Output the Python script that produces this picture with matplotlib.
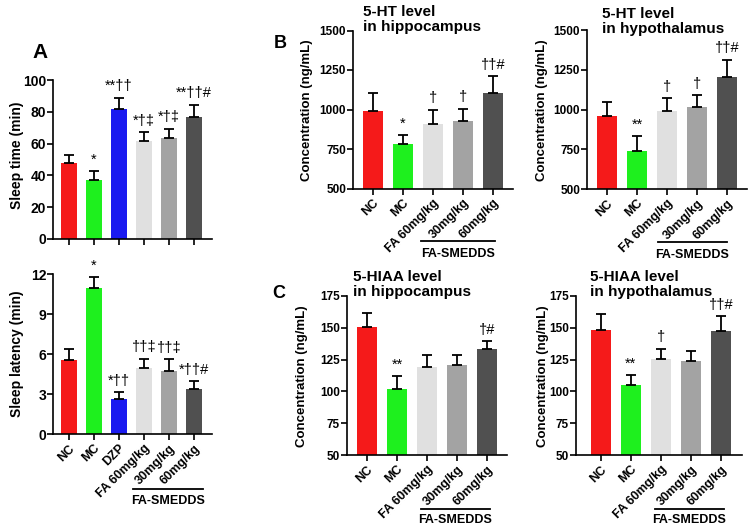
import matplotlib
matplotlib.use("Agg")
import matplotlib.pyplot as plt
import matplotlib.transforms as mtransforms

plt.rcParams["font.family"] = ["Liberation Sans", "DejaVu Sans"]
plt.rcParams["font.weight"] = "bold"

W, H = 752, 529

groups_a = ["NC", "MC", "DZP", "FA 60mg/kg", "30mg/kg", "60mg/kg"]
groups_bc = ["NC", "MC", "FA 60mg/kg", "30mg/kg", "60mg/kg"]

colors_a = ["#f51a1a", "#1ef01e", "#1a1af0", "#e0e0e0", "#a3a3a3", "#505050"]
colors_bc = ["#f51a1a", "#1ef01e", "#e0e0e0", "#a3a3a3", "#505050"]

sleep_time = [47.5, 37.2, 81.8, 61.4, 63.4, 76.9]
sleep_time_sd = [5.5, 5.3, 7.1, 5.9, 6.0, 7.6]
sleep_time_sig = ["", "*", "**††", "*†‡", "*†‡", "**††#"]

sleep_latency = [5.55, 10.97, 2.6, 4.98, 4.73, 3.35]
sleep_latency_sd = [0.8, 0.83, 0.53, 0.67, 0.87, 0.63]
sleep_latency_sig = ["", "*", "*††", "††‡", "††‡", "*††#"]

ht_hippo = [991, 783, 908, 925, 1106]
ht_hippo_sd = [115, 58, 92, 81, 106]
ht_hippo_sig = ["", "*", "†", "†", "††#"]

ht_hypo = [962, 741, 989, 1017, 1204]
ht_hypo_sd = [86, 95, 85, 76, 110]
ht_hypo_sig = ["", "**", "†", "†", "††#"]

hiaa_hippo = [150.8, 101.9, 119.1, 120.4, 133.6]
hiaa_hippo_sd = [10.9, 10.4, 9.4, 8.1, 6.2]
hiaa_hippo_sig = ["", "**", "", "", "†#"]

hiaa_hypo = [148.5, 104.9, 125.8, 123.7, 147.4]
hiaa_hypo_sd = [12.2, 7.7, 7.9, 7.8, 11.6]
hiaa_hypo_sig = ["", "**", "†", "", "††#"]


def px_axes(fig, x0, x1, ytop, ybot):
    return fig.add_axes([x0 / W, 1 - ybot / H, (x1 - x0) / W, (ybot - ytop) / H])


def bar_panel(ax, labels, values, sd, sig, colors, ylim, yticks, xlim,
              show_xlabels=True, smedds=None, ytick_size=8.5):
    x = list(range(len(values)))
    ax.bar(x, values, width=0.67, color=colors, zorder=2)
    ax.errorbar(x, values, yerr=[[0] * len(sd), sd], fmt="none", ecolor="black",
                elinewidth=1.3, capsize=3.6, capthick=1.3, zorder=3)
    for xi, v, s, t in zip(x, values, sd, sig):
        if t:
            ax.annotate(t, (xi, v + s), xytext=(0, 3), textcoords="offset points",
                        ha="center", va="bottom", fontsize=10.5,
                        fontweight="normal")
    ax.set_xlim(*xlim)
    ax.set_ylim(*ylim)
    ax.set_yticks(yticks)
    ax.spines["top"].set_visible(False)
    ax.spines["right"].set_visible(False)
    for sp in ("left", "bottom"):
        ax.spines[sp].set_linewidth(1.2)
    ax.tick_params(width=1.2, length=4)
    ax.tick_params(axis="y", pad=1, labelsize=ytick_size)
    ax.tick_params(axis="x", pad=2)
    ax.set_xticks(x)
    if show_xlabels:
        ax.set_xticklabels(labels, rotation=45, ha="right", rotation_mode="anchor",
                           fontsize=9)
    else:
        ax.set_xticklabels([])
    if smedds is not None:
        x0, x1, yl, yt = smedds
        trans = mtransforms.blended_transform_factory(ax.transData, ax.transAxes)
        ax.plot([x0, x1], [yl, yl], color="black", lw=1.3, transform=trans,
                clip_on=False)
        ax.text((x0 + x1) / 2, yt, "FA-SMEDDS", transform=trans, ha="center",
                va="center", fontsize=9)


def main() -> None:
    fig = plt.figure(figsize=(W / 100, H / 100), dpi=100)

    # panel A
    ax = px_axes(fig, 53, 212, 80, 239)
    bar_panel(ax, groups_a, sleep_time, sleep_time_sd, sleep_time_sig, colors_a,
              (0, 100), range(0, 101, 20), (-0.64, 5.72), show_xlabels=False,
              ytick_size=10)
    fig.text(17 / W, 1 - 155 / H, "Sleep time (min)", rotation=90,
             ha="center", va="center", fontsize=10)

    ax = px_axes(fig, 53, 212, 274, 434)
    bar_panel(ax, groups_a, sleep_latency, sleep_latency_sd, sleep_latency_sig,
              colors_a, (0, 12), range(0, 13, 3), (-0.64, 5.72),
              smedds=(2.56, 5.36, -0.344, -0.417), ytick_size=10)
    fig.text(17 / W, 1 - 354 / H, "Sleep latency (min)", rotation=90,
             ha="center", va="center", fontsize=10)

    # panel B
    ax = px_axes(fig, 353, 513, 30.5, 188.5)
    bar_panel(ax, groups_bc, ht_hippo, ht_hippo_sd, ht_hippo_sig, colors_bc,
              (500, 1500), range(500, 1501, 250), (-0.667, 4.67),
              smedds=(1.6, 4.07, -0.333, -0.415))
    fig.text(307 / W, 1 - 110 / H, "Concentration (ng/mL)", rotation=90,
             ha="center", va="center", fontsize=9.5)

    ax = px_axes(fig, 587, 747, 30, 189)
    bar_panel(ax, groups_bc, ht_hypo, ht_hypo_sd, ht_hypo_sig, colors_bc,
              (500, 1500), range(500, 1501, 250), (-0.667, 4.67),
              smedds=(1.7, 4.0, -0.333, -0.415))
    fig.text(542 / W, 1 - 110 / H, "Concentration (ng/mL)", rotation=90,
             ha="center", va="center", fontsize=9.5)

    # panel C
    ax = px_axes(fig, 347, 507, 296, 455)
    bar_panel(ax, groups_bc, hiaa_hippo, hiaa_hippo_sd, hiaa_hippo_sig, colors_bc,
              (50, 175), range(50, 176, 25), (-0.67, 4.67),
              smedds=(1.8, 4.1, -0.34, -0.41))
    fig.text(302 / W, 1 - 376 / H, "Concentration (ng/mL)", rotation=90,
             ha="center", va="center", fontsize=9.5)

    ax = px_axes(fig, 576, 742, 296, 455)
    bar_panel(ax, groups_bc, hiaa_hypo, hiaa_hypo_sd, hiaa_hypo_sig, colors_bc,
              (50, 175), range(50, 176, 25), (-0.83, 4.7),
              smedds=(1.8, 4.1, -0.34, -0.41))
    fig.text(543 / W, 1 - 376 / H, "Concentration (ng/mL)", rotation=90,
             ha="center", va="center", fontsize=9.5)

    # titles
    fig.text(363 / W, 1 - 5 / H, "5-HT level\nin hippocampus", ha="left",
             va="top", fontsize=11, linespacing=1.05)
    fig.text(602 / W, 1 - 7 / H, "5-HT level\nin hypothalamus", ha="left",
             va="top", fontsize=11, linespacing=1.05)
    fig.text(353 / W, 1 - 270 / H, "5-HIAA level\nin hippocampus", ha="left",
             va="top", fontsize=11, linespacing=1.05)
    fig.text(590 / W, 1 - 270 / H, "5-HIAA level\nin hypothalamus", ha="left",
             va="top", fontsize=11, linespacing=1.05)

    # panel letters
    fig.text(40 / W, 1 - 52 / H, "A", ha="center", va="center", fontsize=15)
    fig.text(280 / W, 1 - 43 / H, "B", ha="center", va="center", fontsize=13)
    fig.text(279 / W, 1 - 294 / H, "C", ha="center", va="center", fontsize=13)

    fig.savefig("out.png", dpi=100)
    plt.close(fig)


if __name__ == "__main__":
    main()
